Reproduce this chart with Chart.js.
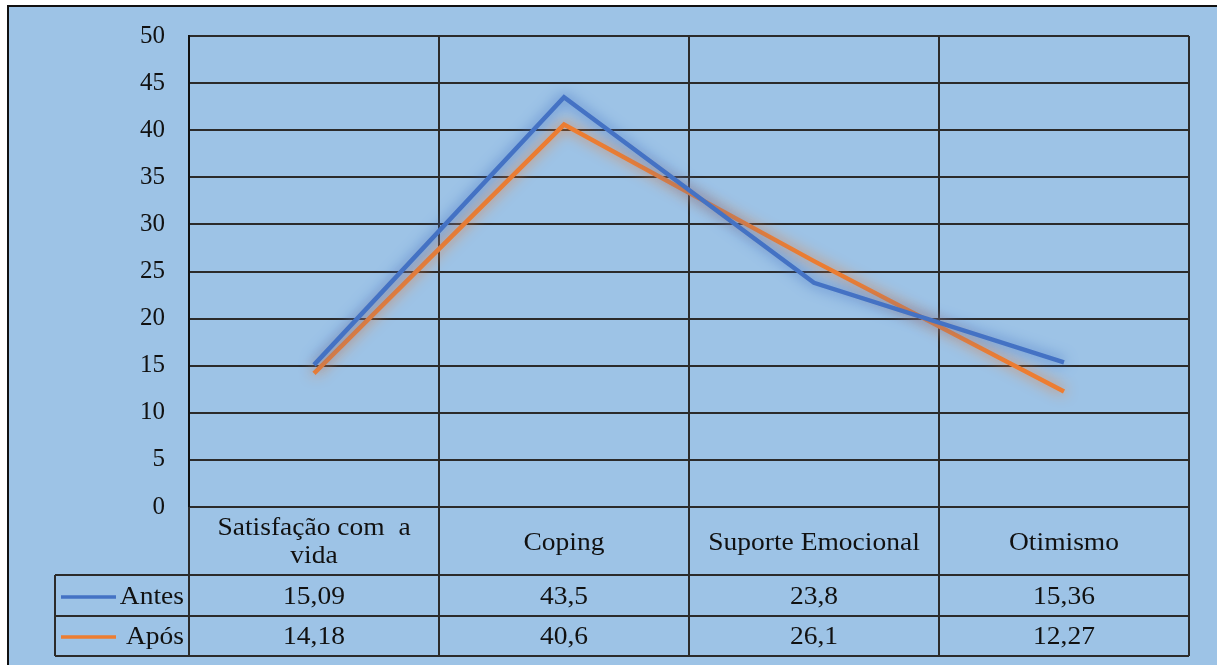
<!DOCTYPE html>
<html>
<head>
<meta charset="utf-8">
<script src="https://cdn.jsdelivr.net/npm/chart.js@4.4.0/dist/chart.umd.min.js"></script>
<style>
    html, body { margin: 0; padding: 0; background: #ffffff; overflow: hidden; }
    #frame {
        position: absolute; left: 7px; top: 5px; width: 1230px; height: 680px;
        border: 2px solid #111; background: #9DC3E6;
    }
    #wrap { position: absolute; left: 0; top: 0; width: 1217px; height: 665px; }
</style>
</head>
<body>
<div id="frame"></div>
<div id="wrap"><canvas id="chart"></canvas></div>
<script>
// Data
const categories = [['Satisfação com  a', 'vida'], 'Coping', 'Suporte Emocional', 'Otimismo'];
const seriesNames = ['Antes', 'Após'];
const antes = [15.09, 43.5, 23.8, 15.36];
const apos = [14.18, 40.6, 26.1, 12.27];
const antesLabels = ['15,09', '43,5', '23,8', '15,36'];
const aposLabels = ['14,18', '40,6', '26,1', '12,27'];

const BLUE = '#4472C4';
const ORANGE = '#ED7D31';
const LINE = '#2b2b2b';
const FONT = '"Liberation Serif", "Times New Roman", serif';

// Soft glow behind each line
const glowPlugin = {
    id: 'glow',
    beforeDatasetDraw(chart, args) {
        const ctx = chart.ctx;
        ctx.save();
        ctx.shadowColor = args.meta.dataset.options.borderColor;
        ctx.shadowBlur = 14;
    },
    afterDatasetDraw(chart) {
        chart.ctx.restore();
    }
};

// text drawn a bit wider, like the original
function wideText(ctx, text, x, y) {
    ctx.save();
    ctx.translate(x, y);
    ctx.scale(1.1, 1);
    ctx.fillText(text, 0, 0);
    ctx.restore();
}

// Data table below the plot, with the legend keys
const tablePlugin = {
    id: 'dataTable',
    afterDraw(chart) {
        const ctx = chart.ctx;
        const area = chart.chartArea;
        const x = chart.scales.x;
        const n = categories.length;
        const colW = area.width / n;
        const catBottom = area.bottom + 68;
        const row1 = catBottom + 41;
        const row2 = row1 + 40;
        const legendLeft = 55;

        ctx.save();
        ctx.strokeStyle = LINE;
        ctx.lineWidth = 2;
        ctx.beginPath();
        // vertical column lines
        for (let i = 0; i <= n; i++) {
            const xp = Math.round(area.left + i * colW);
            ctx.moveTo(xp, area.bottom);
            ctx.lineTo(xp, row2);
        }
        // horizontal row lines
        [catBottom, row1, row2].forEach(y => {
            ctx.moveTo(legendLeft, y);
            ctx.lineTo(area.right, y);
        });
        ctx.moveTo(legendLeft, catBottom);
        ctx.lineTo(legendLeft, row2);
        ctx.stroke();

        ctx.fillStyle = '#111';
        ctx.textAlign = 'center';
        ctx.textBaseline = 'middle';
        ctx.font = '25px ' + FONT;
        categories.forEach((c, i) => {
            const cx = x.getPixelForValue(i);
            if (Array.isArray(c)) {
                wideText(ctx, c[0], cx, area.bottom + 21);
                wideText(ctx, c[1], cx, area.bottom + 49);
            } else {
                wideText(ctx, c, cx, area.bottom + 36);
            }
        });

        antesLabels.forEach((t, i) => wideText(ctx, t, x.getPixelForValue(i), catBottom + 22));
        aposLabels.forEach((t, i) => wideText(ctx, t, x.getPixelForValue(i), row1 + 21));

        // legend keys
        const keys = [[BLUE, catBottom + 22], [ORANGE, row1 + 21]];
        keys.forEach(([col, y], i) => {
            ctx.strokeStyle = col;
            ctx.lineWidth = 3.5;
            ctx.beginPath();
            ctx.moveTo(61, y);
            ctx.lineTo(116, y);
            ctx.stroke();
            ctx.textAlign = 'right';
            wideText(ctx, seriesNames[i], area.left - 5, y);
        });
        ctx.restore();
    }
};

const chart = new Chart(document.getElementById('chart'), {
    type: 'line',
    data: {
        labels: categories,
        datasets: [{
            label: seriesNames[0],
            data: antes,
            borderColor: BLUE,
            borderWidth: 4.5,
            pointRadius: 0,
            tension: 0
        }, {
            label: seriesNames[1],
            data: apos,
            borderColor: ORANGE,
            borderWidth: 4.5,
            pointRadius: 0,
            tension: 0
        }]
    },
    options: {
        responsive: true,
        maintainAspectRatio: false,
        animation: false,
        layout: { padding: { top: 36, right: 28, bottom: 0, left: 0 } },
        plugins: {
            legend: { display: false },
            tooltip: { enabled: false }
        },
        scales: {
            x: {
                offset: true,
                grid: { offset: true, color: LINE, lineWidth: 2, drawTicks: false },
                border: { color: LINE, width: 2 },
                ticks: { display: false },
                afterFit(scale) { scale.height = 158; }
            },
            y: {
                min: 0,
                max: 50,
                grid: { color: LINE, lineWidth: 2, drawTicks: false },
                border: { color: '#111', width: 2 },
                ticks: {
                    stepSize: 5,
                    padding: 24,
                    color: '#111',
                    font: { family: FONT, size: 25, lineHeight: 1 }
                },
                afterFit(scale) {
                    scale.width = 189;
                    scale.paddingTop = 0;
                    scale.paddingBottom = 0;
                }
            }
        }
    },
    plugins: [glowPlugin, tablePlugin]
});
</script>
</body>
</html>
